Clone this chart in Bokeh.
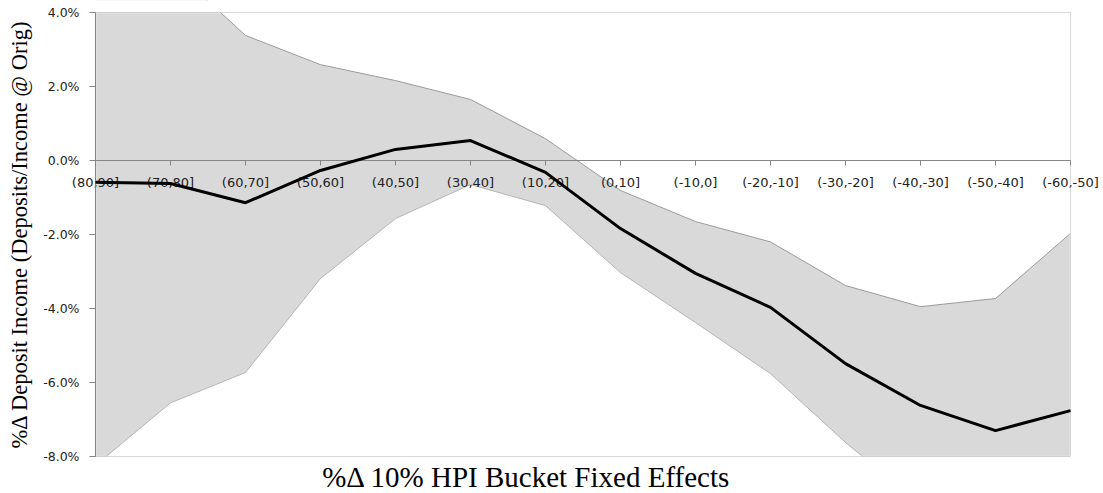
from bokeh.plotting import figure
from bokeh.models import FixedTicker, Range1d, ColumnDataSource, PrintfTickFormatter, Label, BoxAnnotation
from bokeh.embed import file_html
from bokeh.resources import INLINE

categories = ["(80,90]", "(70,80]", "(60,70]", "(50,60]", "(40,50]", "(30,40]", "(10,20]",
              "(0,10]", "(-10,0]", "(-20,-10]", "(-30,-20]", "(-40,-30]", "(-50,-40]", "(-60,-50]"]
estimate = [-0.59, -0.62, -1.14, -0.27, 0.30, 0.54, -0.32, -1.84, -3.05, -3.97, -5.49, -6.62, -7.30, -6.76]
upper = [7.0, 5.24, 3.38, 2.59, 2.16, 1.65, 0.59, -0.81, -1.65, -2.20, -3.38, -3.95, -3.73, -1.97]
lower = [-8.24, -6.55, -5.73, -3.19, -1.57, -0.65, -1.22, -3.03, -4.38, -5.76, -7.62, -9.29, -10.87, -11.55]
y_ticks = [-8, -6, -4, -2, 0, 2, 4]

# ---- layout (pixels): plot area of the chart inside the 1103x493 canvas
W, H = 1103, 493
PLOT_L, PLOT_R, PLOT_T, PLOT_B = 95, 1070, 12, 456
x = list(range(len(categories)))
x_lo, x_hi = x[0], x[-1]
y_lo, y_hi = y_ticks[0], y_ticks[-1]
px_x = (PLOT_R - PLOT_L) / (x_hi - x_lo)
px_y = (PLOT_B - PLOT_T) / (y_hi - y_lo)
# the frame covers the whole canvas so that edge labels are not clipped
xr = Range1d(x_lo - PLOT_L / px_x, x_hi + (W - PLOT_R) / px_x)
yr = Range1d(y_lo - (H - PLOT_B) / px_y, y_hi + PLOT_T / px_y)

src = ColumnDataSource(dict(x=x, est=estimate, up=upper, lo=lower))

p = figure(width=W, height=H, output_backend="svg", toolbar_location=None,
           x_range=xr, y_range=yr,
           min_border_left=0, min_border_right=0, min_border_top=0, min_border_bottom=0)
p.background_fill_color = "white"
p.border_fill_color = "white"
p.outline_line_color = None
p.grid.visible = False

p.varea(x="x", y1="lo", y2="up", source=src, fill_color="#d9d9d9")
p.line(x="x", y="up", source=src, line_color="#9a9a9a", line_width=1)
p.line(x="x", y="lo", source=src, line_color="#b4b4b4", line_width=1)

# white masks outside the plot area (drawn above the band, below axes)
far_l, far_r = xr.start - 5, xr.end + 5
far_b, far_t = yr.start - 5, yr.end + 5
for kw in (dict(left=far_l, right=far_r, bottom=y_hi, top=far_t),
           dict(left=far_l, right=far_r, bottom=far_b, top=y_lo),
           dict(left=far_l, right=x_lo, bottom=far_b, top=far_t),
           dict(left=x_hi, right=far_r, bottom=far_b, top=far_t)):
    m = BoxAnnotation(fill_color="white", fill_alpha=1.0, line_color="white",
                      line_width=2, **kw)
    m.level = "glyph"
    p.add_layout(m)

# plot-area border
border = BoxAnnotation(left=x_lo, right=x_hi, bottom=y_lo, top=y_hi, fill_alpha=0,
                       line_color="#868686", line_width=1)
border.level = "guide"
p.add_layout(border)

tick_font = "DejaVu Sans"
ya = p.yaxis[0]
ya.fixed_location = x_lo
ya.bounds = (y_lo, y_hi)
ya.ticker = FixedTicker(ticks=y_ticks)
ya.formatter = PrintfTickFormatter(format="%.1f%%")
ya.major_tick_in = 0
ya.major_tick_out = 6
ya.minor_tick_out = 0
ya.minor_tick_in = 0
ya.axis_line_color = "#868686"
ya.major_tick_line_color = "#868686"
ya.major_label_text_font = tick_font
ya.major_label_text_font_size = "12.5px"
ya.major_label_text_color = "#222222"
ya.major_label_standoff = 10
ya.axis_label = "%Δ Deposit Income (Deposits/Income @ Orig)"
ya.axis_label_text_font = "Liberation Serif"
ya.axis_label_text_font_size = "22.5px"
ya.axis_label_text_font_style = "normal"
ya.axis_label_text_color = "black"
ya.axis_label_standoff = 8

xa = p.xaxis[0]
xa.fixed_location = 0
xa.bounds = (x_lo, x_hi)
xa.ticker = FixedTicker(ticks=x)
xa.major_label_overrides = {i: c for i, c in zip(x, categories)}
xa.major_tick_in = 0
xa.major_tick_out = 5
xa.minor_tick_out = 0
xa.minor_tick_in = 0
xa.axis_line_color = "#868686"
xa.major_tick_line_color = "#868686"
xa.major_label_text_font = tick_font
xa.major_label_text_font_size = "13px"
xa.major_label_text_color = "#222222"
xa.major_label_standoff = 9

r = p.line(x="x", y="est", source=src, line_color="black", line_width=3)
r.level = "overlay"

TITLE_CX, TITLE_CY = 526, 476
p.add_layout(Label(x=x_lo + (TITLE_CX - PLOT_L) / px_x, y=y_hi - (TITLE_CY - PLOT_T) / px_y,
                   text="%Δ 10% HPI Bucket Fixed Effects", text_align="center",
                   text_baseline="middle", text_font="Liberation Serif",
                   text_font_size="29px", text_color="black"))

open("out.html", "w").write(file_html(p, INLINE))
